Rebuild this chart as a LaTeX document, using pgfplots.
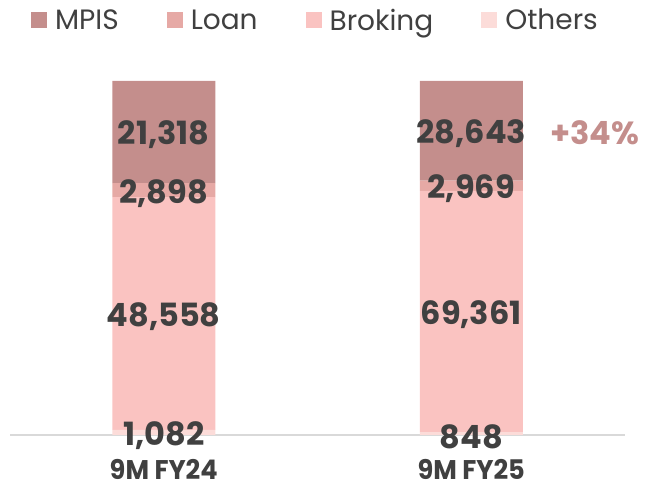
\documentclass[border=0pt]{standalone}
\usepackage{fontspec}
\setmainfont{Poppins}
\newfontfamily\catfont[FakeStretch=0.95]{Poppins}
\usepackage{pgfplots}
\pgfplotsset{compat=1.18}
\usepackage{pgfplotstable}

\definecolor{cMPIS}{HTML}{C48E8C}
\definecolor{cLoan}{HTML}{E6A9A5}
\definecolor{cBroking}{HTML}{FAC3C1}
\definecolor{cOthers}{HTML}{FCDCD9}
\definecolor{txt}{HTML}{404040}
\definecolor{axisgray}{HTML}{D9D9D9}

% raw values per period, shown as 100% stacked bars
\pgfplotstableread{
x others broking loan mpis total
0 1082 48558 2898 21318 73856
1 848 69361 2969 28643 101821
}\datatable

\begin{document}
\begin{tikzpicture}
\path[use as bounding box] (-10pt,-54pt) rectangle (638pt,435pt);
\begin{axis}[
    scale only axis,
    width=615pt, height=354pt,
    ybar stacked, bar width=103pt,
    xmin=-0.5, xmax=1.5, ymin=0, ymax=100,
    axis x line*=bottom, axis y line=none,
    x axis line style={axisgray, line width=1.5pt},
    xtick=data, xticklabels={9M FY24, 9M FY25},
    major tick length=0pt,
    xticklabel style={font=\catfont\bfseries\fontsize{27}{29}\selectfont, text=txt,
        anchor=base, yshift=-45pt, inner sep=0pt, text depth=0pt},
    ytick=\empty,
    clip=false,
    reverse legend,
    legend columns=4,
    legend style={draw=none, fill=none, inner sep=0pt, at={(0.034,1.172)}, anchor=west,
        font=\fontsize{28}{30}\selectfont, text=txt,
        /tikz/every even column/.append style={column sep=46pt},
        /tikz/every odd column/.append style={column sep=6pt}},
    legend image code/.code={\fill[#1] (0pt,-8pt) rectangle (16pt,8pt);},
    /pgf/number format/assume math mode=true,
    nodes near coords={\pgfmathprintnumber[1000 sep={,},fixed,precision=0]{\pgfplotspointmeta}},
    point meta=explicit,
    every node near coord/.append style={font=\bfseries\fontsize{32}{34}\selectfont,
        text=txt, anchor=center, yshift=-3pt},
]
\addplot[fill=cOthers, draw=none]
    table[x=x, y expr=\thisrow{others}/\thisrow{total}*100, meta=others] {\datatable};
\addlegendentry{Others}
\addplot[fill=cBroking, draw=none]
    table[x=x, y expr=\thisrow{broking}/\thisrow{total}*100, meta=broking] {\datatable};
\addlegendentry{Broking}
\addplot[fill=cLoan, draw=none]
    table[x=x, y expr=\thisrow{loan}/\thisrow{total}*100, meta=loan] {\datatable};
\addlegendentry{Loan}
\addplot[fill=cMPIS, draw=none]
    table[x=x, y expr=\thisrow{mpis}/\thisrow{total}*100, meta=mpis] {\datatable};
\addlegendentry{MPIS}
% growth tag
\node[font=\bfseries\fontsize{32}{34}\selectfont, text=cMPIS] at (axis cs:1.402,85.3) {+34\%};
\end{axis}
\end{tikzpicture}
\end{document}
